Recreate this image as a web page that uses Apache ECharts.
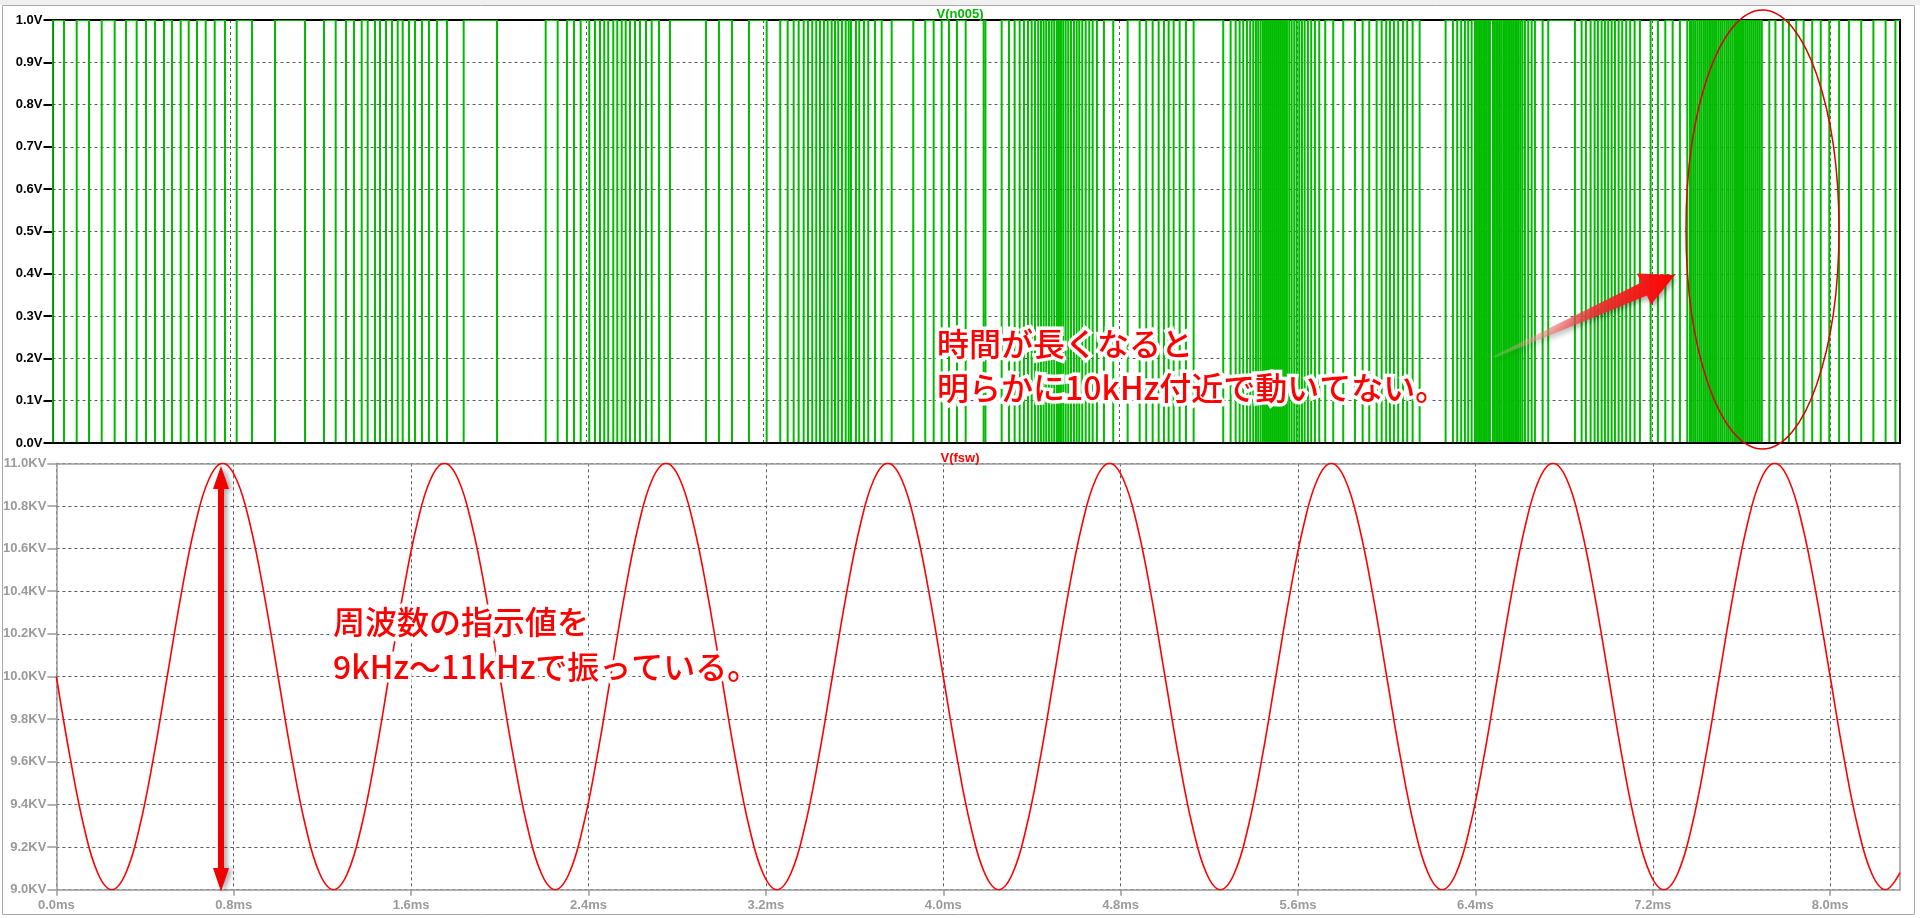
<!DOCTYPE html>
<html><head><meta charset="utf-8">
<script src="https://cdn.jsdelivr.net/npm/echarts@6/dist/echarts.min.js"></script>
<style>html,body{margin:0;padding:0;background:#fff}#c{width:1920px;height:918px}</style>
</head><body><div id="c"></div>
<script>
const X_MAX = 8.315;
const xTickValues = [0, 0.8, 1.6, 2.4, 3.2, 4.0, 4.8, 5.6, 6.4, 7.2, 8.0];
const topTitle = 'V(n005)';
const bottomTitle = 'V(fsw)';
// transition times (ms) of V(n005)
const n005Edges = [
 0.001, 0.0518, 0.1089, 0.1643, 0.2214, 0.2799, 0.3308, 0.3789, 0.4208, 0.4613, 0.5018, 0.5378, 0.5770, 0.6130, 0.6503, 0.6895, 0.7300, 0.7763, 0.8290, 0.8978, 1.0014, 1.1364,
 1.2219, 1.2745, 1.3209, 1.3569, 1.3915, 1.4185, 1.4514, 1.4739, 1.5009, 1.5279, 1.5536, 1.5761, 1.6044, 1.6314, 1.6629, 1.6944, 1.7304, 1.7754, 1.8506, 2.0005, 2.2196, 2.2736, 2.3155, 2.3470, 2.3771,
 2.4158, 2.4415, 2.4640, 2.4833, 2.5013, 2.5239, 2.5419, 2.5617, 2.5797, 2.5990, 2.6215, 2.6440, 2.6710, 2.6967, 2.7295, 2.7790, 2.9410, 2.9995, 3.0581, 3.1346, 3.2142, 3.2754, 3.3087, 3.3357, 3.3582, 3.3807, 3.4001, 3.4194, 3.4374, 3.4541, 3.4721, 3.4887, 3.5068, 3.5216, 3.5365, 3.5531, 3.5698, 3.5833,
 3.5936, 3.6161, 3.6310, 3.6521, 3.6715, 3.7016, 3.7318, 3.7768, 3.8740, 3.9280, 3.9658, 4.0018, 4.0347, 4.0707, 4.1098, 4.1908, 4.1989, 4.2718, 4.3047, 4.3303, 4.3528, 4.3722, 4.3902, 4.4069, 4.4217, 4.4365, 4.4487, 4.4608, 4.4725, 4.4847, 4.4968, 4.5085, 4.5207, 4.5297, 4.5387, 4.5490, 4.5598, 4.5716, 4.5837, 4.5972, 4.6094, 4.6211, 4.6346, 4.6499, 4.6661, 4.6814, 4.7007, 4.7322, 4.7741,
 4.8389, 4.8929, 4.9226, 4.9514, 4.9784, 5.0023, 5.0234, 5.0459, 5.0729, 5.1013, 5.1359, 5.2691, 5.3024, 5.3249, 5.3429, 5.3591, 5.3758, 5.3906, 5.4041, 5.4163, 5.4266, 5.4374, 5.4478, 5.4568, 5.4658, 5.4748, 5.4838, 5.4928, 5.5018, 5.5108, 5.5198, 5.5288, 5.5378, 5.5468, 5.5558, 5.5662, 5.5770, 5.5887, 5.5995, 5.6112, 5.6233, 5.6355, 5.6503, 5.6652, 5.6818, 5.7012, 5.7282, 5.7642, 5.8092, 5.8618, 5.8965, 5.9262, 5.9595,
 5.9820, 6.0027, 6.0194, 6.0374, 6.0567, 6.0779, 6.0972, 6.1215, 6.1530, 6.2700, 6.3029, 6.3222, 6.3402, 6.3569, 6.3717, 6.3870, 6.4019, 6.4095, 6.4167, 6.4244, 6.4320, 6.4392, 6.4469, 6.4545, 6.4617, 6.4694, 6.4829, 6.4905, 6.4977, 6.5054, 6.5131, 6.5203, 6.5293, 6.5369, 6.5446, 6.5518, 6.5594, 6.5684, 6.5761, 6.5833, 6.5909, 6.5986, 6.6067, 6.6157, 6.6269, 6.6418, 6.6571, 6.6719, 6.7066, 6.7318, 6.8519, 6.8821, 6.9014, 6.9226, 6.9406, 6.9554, 6.9721, 6.9869, 7.0018, 7.0171, 7.0320, 7.0486, 7.0648, 7.0828, 7.1008, 7.1206, 7.1445,
 7.1926, 7.2255, 7.2588, 7.2917, 7.3245, 7.3578,
 7.370, 7.378, 7.387, 7.395, 7.404, 7.413, 7.421, 7.430, 7.438, 7.447, 7.456, 7.464, 7.473, 7.482, 7.490, 7.499, 7.508, 7.516, 7.525, 7.534, 7.542, 7.551, 7.560, 7.569, 7.577, 7.586, 7.595, 7.604, 7.612, 7.621, 7.630, 7.639, 7.648, 7.657, 7.666, 7.675, 7.684, 7.693,
 7.7268, 7.7543, 7.7876, 7.8150, 7.8479, 7.8812, 7.9199, 7.9582, 7.9968, 8.0409, 8.0851, 8.1404, 8.1953, 8.2502, 8.2943
];
const fswTime = [
 0, 0.0625, 0.125, 0.1875, 0.25, 0.3125, 0.375, 0.4375, 0.5, 0.5625, 0.625, 0.6875, 0.75, 0.8125, 0.875, 0.9375,
 1, 1.0625, 1.125, 1.1875, 1.25, 1.3125, 1.375, 1.4375, 1.5, 1.5625, 1.625, 1.6875, 1.75, 1.8125, 1.875, 1.9375,
 2, 2.0625, 2.125, 2.1875, 2.25, 2.3125, 2.375, 2.4375, 2.5, 2.5625, 2.625, 2.6875, 2.75, 2.8125, 2.875, 2.9375,
 3, 3.0625, 3.125, 3.1875, 3.25, 3.3125, 3.375, 3.4375, 3.5, 3.5625, 3.625, 3.6875, 3.75, 3.8125, 3.875, 3.9375,
 4, 4.0625, 4.125, 4.1875, 4.25, 4.3125, 4.375, 4.4375, 4.5, 4.5625, 4.625, 4.6875, 4.75, 4.8125, 4.875, 4.9375,
 5, 5.0625, 5.125, 5.1875, 5.25, 5.3125, 5.375, 5.4375, 5.5, 5.5625, 5.625, 5.6875, 5.75, 5.8125, 5.875, 5.9375,
 6, 6.0625, 6.125, 6.1875, 6.25, 6.3125, 6.375, 6.4375, 6.5, 6.5625, 6.625, 6.6875, 6.75, 6.8125, 6.875, 6.9375,
 7, 7.0625, 7.125, 7.1875, 7.25, 7.3125, 7.375, 7.4375, 7.5, 7.5625, 7.625, 7.6875, 7.75, 7.8125, 7.875, 7.9375,
 8, 8.0625, 8.125, 8.1875, 8.25, 8.315
];
const fswValue = [
 10, 9.617, 9.293, 9.076, 9, 9.076, 9.293, 9.617, 10, 10.383, 10.707, 10.924, 11, 10.924, 10.707, 10.383,
 10, 9.617, 9.293, 9.076, 9, 9.076, 9.293, 9.617, 10, 10.383, 10.707, 10.924, 11, 10.924, 10.707, 10.383,
 10, 9.617, 9.293, 9.076, 9, 9.076, 9.293, 9.617, 10, 10.383, 10.707, 10.924, 11, 10.924, 10.707, 10.383,
 10, 9.617, 9.293, 9.076, 9, 9.076, 9.293, 9.617, 10, 10.383, 10.707, 10.924, 11, 10.924, 10.707, 10.383,
 10, 9.617, 9.293, 9.076, 9, 9.076, 9.293, 9.617, 10, 10.383, 10.707, 10.924, 11, 10.924, 10.707, 10.383,
 10, 9.617, 9.293, 9.076, 9, 9.076, 9.293, 9.617, 10, 10.383, 10.707, 10.924, 11, 10.924, 10.707, 10.383,
 10, 9.617, 9.293, 9.076, 9, 9.076, 9.293, 9.617, 10, 10.383, 10.707, 10.924, 11, 10.924, 10.707, 10.383,
 10, 9.617, 9.293, 9.076, 9, 9.076, 9.293, 9.617, 10, 10.383, 10.707, 10.924, 11, 10.924, 10.707, 10.383,
 10, 9.617, 9.293, 9.076, 9, 9.08
];
const note1 = ['時間が長くなると', '明らかに10kHz付近で動いてない。'];
const note2 = ['周波数の指示値を', '9kHz～11kHzで振っている。'];

// each edge -> [edge time, next edge time, level after the edge]
function edgeSegments(edges, start, end) {
  const out = [];
  let v = start;
  for (let i = 0; i < edges.length; i++) {
    v = 1 - v;
    out.push([edges[i], i + 1 < edges.length ? edges[i + 1] : end, v]);
  }
  return out;
}

const FONT = '"Liberation Sans", Arial, sans-serif';
const GRAY = '#9a9a9a';
const GREEN = '#00bb00';
const dashed = { show: true, lineStyle: { color: '#5c5c5c', type: [3, 3], width: 1 } };
const chart = echarts.init(document.getElementById('c'), null, { renderer: 'canvas' });

const NOTE_FONT = '500 32px "Noto Sans CJK JP", sans-serif';
function noteText(x, y, text) {
  return [
    { type: 'text', silent: true, z: 100, x: x, y: y,
      style: { text: text, font: NOTE_FONT, fill: '#ffffff', stroke: '#ffffff', lineWidth: 7, lineJoin: 'round',
        verticalAlign: 'middle', align: 'left',
        shadowColor: 'rgba(0,0,0,0.5)', shadowBlur: 5, shadowOffsetX: 2, shadowOffsetY: 2 } },
    { type: 'text', silent: true, z: 101, x: x, y: y,
      style: { text: text, font: NOTE_FONT, fill: '#ff0000', verticalAlign: 'middle', align: 'left' } }
  ];
}

chart.setOption({
  animation: false,
  backgroundColor: '#ffffff',
  title: [
    { text: topTitle, left: 'center', top: 3, textStyle: { color: '#00b800', fontSize: 13, fontWeight: 'bold', fontFamily: FONT } },
    { text: bottomTitle, left: 'center', top: 447, textStyle: { color: '#ff0000', fontSize: 13, fontWeight: 'bold', fontFamily: FONT } }
  ],
  grid: [
    { left: 52.5, right: 20, top: 20, height: 423 },
    { left: 52.5, right: 20, top: 463.3, height: 426.4 }
  ],
  xAxis: [
    { gridIndex: 0, type: 'value', min: 0, max: X_MAX, position: 'bottom', z: 5,
      axisLine: { show: true, onZero: false, lineStyle: { color: '#000', width: 2 } },
      axisTick: { show: false }, axisLabel: { show: false }, splitLine: { show: false } },
    { gridIndex: 0, type: 'value', min: 0, max: X_MAX, interval: 0.8, position: 'top', z: 1,
      axisLine: { show: true, onZero: false, lineStyle: { color: '#000', width: 2 } },
      axisTick: { show: false }, axisLabel: { show: false }, splitLine: dashed },
    { gridIndex: 1, type: 'value', min: 0, max: X_MAX, interval: 0.8, position: 'bottom', z: 1,
      axisLine: { show: true, onZero: false, lineStyle: { color: GRAY, width: 1.5 } },
      axisTick: { show: true, length: 6, customValues: xTickValues, lineStyle: { color: GRAY, width: 1.5 } },
      axisLabel: { show: true, customValues: xTickValues, margin: 9, color: GRAY, fontSize: 13, fontWeight: 'bold', fontFamily: FONT,
        formatter: v => v.toFixed(1) + 'ms' },
      splitLine: dashed },
    { gridIndex: 1, type: 'value', min: 0, max: X_MAX, position: 'top', z: 1,
      axisLine: { show: true, onZero: false, lineStyle: { color: GRAY, width: 1.5 } },
      axisTick: { show: false }, axisLabel: { show: false }, splitLine: { show: false } }
  ],
  yAxis: [
    { gridIndex: 0, type: 'value', min: 0, max: 1, interval: 0.1, position: 'left', z: 1,
      axisLine: { show: true, onZero: false, lineStyle: { color: '#000', width: 2 } },
      axisTick: { show: true, length: 9, lineStyle: { color: '#000', width: 2 } },
      axisLabel: { margin: 10, color: '#000', fontSize: 13, fontWeight: 'bold', fontFamily: FONT, formatter: v => v.toFixed(1) + 'V' },
      splitLine: dashed },
    { gridIndex: 0, type: 'value', min: 0, max: 1, position: 'right', z: 1,
      axisLine: { show: true, onZero: false, lineStyle: { color: '#000', width: 2 } },
      axisTick: { show: false }, axisLabel: { show: false }, splitLine: { show: false } },
    { gridIndex: 1, type: 'value', min: 9, max: 11, interval: 0.2, position: 'left', z: 1,
      axisLine: { show: true, onZero: false, lineStyle: { color: GRAY, width: 1.5 } },
      axisTick: { show: true, length: 9, lineStyle: { color: GRAY, width: 1.5 } },
      axisLabel: { margin: 10, color: GRAY, fontSize: 13, fontWeight: 'bold', fontFamily: FONT, formatter: v => v.toFixed(1) + 'KV' },
      splitLine: dashed },
    { gridIndex: 1, type: 'value', min: 9, max: 11, position: 'right', z: 1,
      axisLine: { show: true, onZero: false, lineStyle: { color: GRAY, width: 1.5 } },
      axisTick: { show: false }, axisLabel: { show: false }, splitLine: { show: false } }
  ],
  series: [
    { type: 'custom', xAxisIndex: 0, yAxisIndex: 0, z: 2, clip: true,
      data: edgeSegments(n005Edges, 0, X_MAX),
      renderItem: function (params, api) {
        const t0 = api.value(0), t1 = api.value(1), lv = api.value(2);
        const top = api.coord([t0, 1]), bot = api.coord([t0, 0]);
        const a = api.coord([t0, lv]), b = api.coord([t1, lv]);
        return { type: 'group', children: [
          { type: 'line', shape: { x1: top[0], y1: top[1] - 1, x2: bot[0], y2: bot[1] + 1 }, style: { stroke: GREEN, lineWidth: 2 } },
          { type: 'line', shape: { x1: a[0], y1: a[1], x2: b[0], y2: b[1] }, style: { stroke: GREEN, lineWidth: 2 } }
        ] };
      } },
    { type: 'line', xAxisIndex: 2, yAxisIndex: 2, data: fswTime.map((t, i) => [t, fswValue[i]]),
      showSymbol: false, symbol: 'none', smooth: 0.4, z: 2,
      lineStyle: { color: '#ff0000', width: 1.6 } }
  ],
  graphic: [
    { type: 'rect', silent: true, z: -10, shape: { x: 0, y: 0, width: 1920, height: 5 }, style: { fill: '#f0f0f0' } },
    { type: 'rect', silent: true, z: -10, shape: { x: 2.5, y: 5.5, width: 1912, height: 909 }, style: { fill: 'none', stroke: '#a8a8a8', lineWidth: 1 } },
    { type: 'ellipse', silent: true, z: 100, shape: { cx: 1762.5, cy: 229.5, rx: 76.5, ry: 219.5 },
      style: { fill: 'none', stroke: '#e00000', lineWidth: 1.5 } },
    { type: 'polygon', silent: true, z: 100,
      shape: { points: [[1494.4, 357.9], [1646.9, 295.4], [1651, 304.5], [1675, 275], [1637, 273.5], [1641.1, 282.6], [1493.6, 356.1]] },
      style: { fill: new echarts.graphic.LinearGradient(0, 0, 1, 0, [
        { offset: 0, color: 'rgba(255,200,200,0.2)' }, { offset: 0.55, color: 'rgba(235,50,50,0.9)' }, { offset: 1, color: '#ff0000' }]),
        shadowColor: 'rgba(0,0,0,0.35)', shadowBlur: 5, shadowOffsetX: 2, shadowOffsetY: 3 } },
    { type: 'polygon', silent: true, z: 100,
      shape: { points: [[221, 466], [229, 489], [224, 489], [224, 868], [229, 868], [221, 891.5], [213, 868], [218, 868], [218, 489], [213, 489]] },
      style: { fill: '#f00000', shadowColor: 'rgba(0,0,0,0.35)', shadowBlur: 5, shadowOffsetX: 3, shadowOffsetY: 1 } }
  ].concat(noteText(937, 344, note1[0]), noteText(937, 388, note1[1]), noteText(333, 622, note2[0]), noteText(333, 667, note2[1]))
});
</script>
</body></html>
